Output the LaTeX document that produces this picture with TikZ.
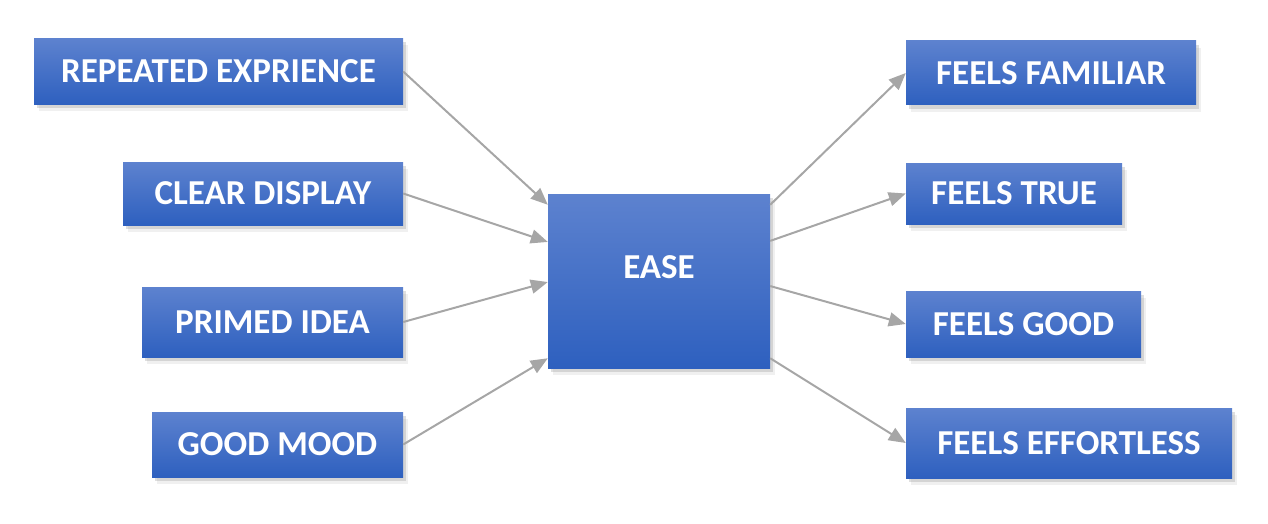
\documentclass[tikz,border=0pt]{standalone}
\usepackage{fontspec}
\setmainfont{Carlito}
\usepackage{xcolor}
\usepackage{tikz}
\usetikzlibrary{positioning,arrows.meta,calc,shadows}
\definecolor{boxtop}{RGB}{93,130,207}
\definecolor{boxbottom}{RGB}{46,96,191}
\definecolor{linkgray}{RGB}{166,166,166}
\tikzset{
    factor/.style={rectangle, inner sep=0pt, top color=boxtop, bottom color=boxbottom,
        text=white, font=\fontsize{35}{42}\selectfont\bfseries,
        drop shadow={opacity=0.12, shadow xshift=5pt, shadow yshift=-7pt},
        drop shadow={opacity=0.25, shadow xshift=3pt, shadow yshift=-4pt}},
    link/.style={-{Triangle[length=17pt, width=14pt]}, line width=2pt, linkgray}
}

\begin{document}
\begin{tikzpicture}[x=1pt, y=-1pt]
    \useasboundingbox (0,0) rectangle (1268,524);

    % Causes on the left
    \node[factor, minimum width=369pt, minimum height=66pt] (repeated) at (218.5,71.5) {REPEATED EXPRIENCE};
    \node[factor, minimum width=280pt, minimum height=63pt] (display) at (263,193.5) {CLEAR DISPLAY};
    \node[factor, minimum width=261pt, minimum height=70pt] (primed) at (272.5,322) {PRIMED IDEA};
    \node[factor, minimum width=251pt, minimum height=65pt] (mood) at (277.5,444.5) {GOOD MOOD};

    % Central box
    \node[factor, minimum width=222pt, minimum height=174pt, text depth=28pt] (ease) at (659,281) {EASE};

    % Effects on the right
    \node[factor, minimum width=290pt, minimum height=64pt] (familiar) at (1051,73) {FEELS FAMILIAR};
    \node[factor, minimum width=216pt, minimum height=61pt] (true) at (1014,193.5) {FEELS TRUE};
    \node[factor, minimum width=235pt, minimum height=66pt] (good) at (1023.5,324) {FEELS GOOD};
    \node[factor, minimum width=326pt, minimum height=70pt] (effortless) at (1069,443) {FEELS EFFORTLESS};

    % Docking points on the sides of the central box
    \foreach \i/\f in {1/0.063, 2/0.276, 3/0.506, 4/0.943} {
        \coordinate (in-\i) at ($(ease.north west)!\f!(ease.south west)$);
    }
    \foreach \i/\f in {1/0.063, 2/0.270, 3/0.529, 4/0.943} {
        \coordinate (out-\i) at ($(ease.north east)!\f!(ease.south east)$);
    }

    % Arrows into the central box
    \foreach \src/\i in {repeated/1, display/2, primed/3, mood/4} {
        \draw[link] (\src.east) -- (in-\i);
    }

    % Arrows out of the central box
    \foreach \dst/\i in {familiar/1, true/2, good/3, effortless/4} {
        \draw[link] (out-\i) -- (\dst.west);
    }
\end{tikzpicture}
\end{document}
